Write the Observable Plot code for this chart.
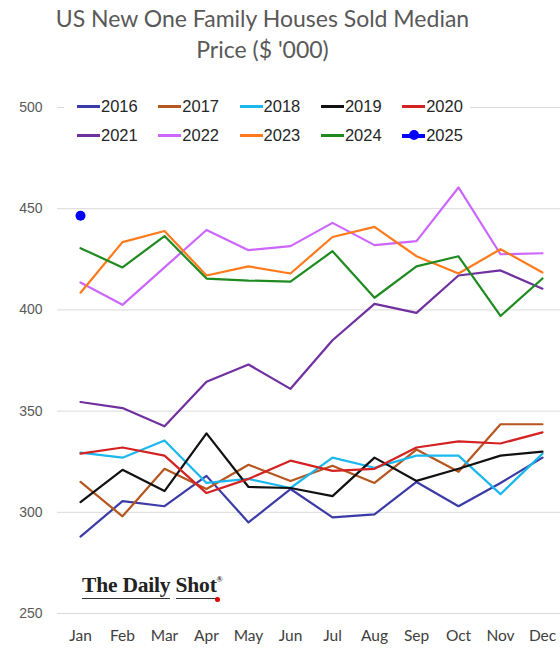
<!DOCTYPE html>
<html>
<head>
<meta charset="utf-8">
<script src="https://cdn.jsdelivr.net/npm/d3@7"></script>
<script src="https://cdn.jsdelivr.net/npm/@observablehq/plot@0.6"></script>
<style>
  html, body { margin: 0; padding: 0; background: #fff; }
  #wrap { position: relative; width: 560px; height: 651px; overflow: hidden; font-family: Lato, "Open Sans", sans-serif; }
  #title { width: 525px; height: 75px; text-align: center; color: #595959; font-size: 23px; line-height: 31px; padding-top: 3px; box-sizing: border-box; }
  #legend { position: absolute; left: 64px; top: 94px; width: 406px; height: 56px; background: #fff; }
  .item { position: absolute; display: flex; align-items: center; font-family: "Liberation Sans", Arial, sans-serif; font-size: 16.5px; color: #262626; }
  .swatch { position: relative; width: 23px; height: 3px; margin-right: 1px; }
  .swatch .dot { position: absolute; left: 7px; top: -4px; width: 10px; height: 10px; border-radius: 50%; }
  #logo { position: absolute; left: 82px; top: 573px; font-family: "Liberation Serif", "DejaVu Serif", serif; font-weight: bold; font-size: 21.5px; color: #222; letter-spacing: -0.2px; white-space: nowrap; }
  #logo .t { position: relative; border-bottom: 1.5px solid #333; padding-bottom: 1px; }
  #logo sup { font-size: 8px; vertical-align: 10px; }
  #logo .reddot { position: absolute; right: -3px; bottom: -4px; width: 5px; height: 5px; border-radius: 50%; background: #e00000; }
</style>
</head>
<body>
<div id="wrap">
  <div id="title">US New One Family Houses Sold Median<br>Price ($ '000)</div>
  <div id="chart"></div>
  <div id="legend"></div>
  <div id="logo"><span class="t">The Daily</span> <span class="t">Shot<span class="reddot"></span></span><sup>®</sup></div>
</div>
<script>
// Monthly median sale price of new one-family houses, thousands of dollars
const months = ["Jan", "Feb", "Mar", "Apr", "May", "Jun", "Jul", "Aug", "Sep", "Oct", "Nov", "Dec"];
const years = ["2016", "2017", "2018", "2019", "2020", "2021", "2022", "2023", "2024", "2025"];
const colors = ["#3b3ba8", "#b5561f", "#1ab8ee", "#111111", "#d42121", "#7030a0", "#cc66ff", "#ff7a1a", "#1f8a1f", "#0000ff"];

const p2016 = [288, 305.5, 303, 318, 295, 311.5, 297.5, 299, 315, 303, 314.5, 327];
const p2017 = [315, 298, 321.5, 311.5, 323.5, 315.5, 323, 314.5, 331, 320, 343.5, 343.5];
const p2018 = [329.5, 327, 335.5, 314.5, 316.5, 312, 327, 322, 328, 328, 309, 329];
const p2019 = [305, 321, 310.5, 339, 312.5, 312, 308, 327, 315.5, 321.5, 328, 330];
const p2020 = [329, 332, 328, 309.5, 316.5, 325.5, 320.5, 321.5, 332, 335, 334, 339.5];
const p2021 = [354.5, 351.5, 342.5, 364.5, 373, 361, 385, 403, 398.5, 417, 419.5, 410.5];
const p2022 = [413.5, 402.5, 421, 439.5, 429.5, 431.5, 443, 432, 434, 460.5, 427.5, 428];
const p2023 = [408.5, 433.5, 439, 417, 421.5, 418, 436, 441, 426.5, 418, 430, 418.5];
const p2024 = [430.5, 421, 436.5, 415.5, 414.5, 414, 429, 406, 421.5, 426.5, 397, 415.5];
const p2025 = [446.5];

const yTicks = [250, 300, 350, 400, 450, 500];

const series = [p2016, p2017, p2018, p2019, p2020, p2021, p2022, p2023, p2024, p2025];
const rows = series.flatMap((vals, i) => vals.map((v, j) => ({year: years[i], month: months[j], price: v})));
const lineRows = rows.filter(d => d.year !== "2025");
const dotRows = rows.filter(d => d.year === "2025");

const chart = Plot.plot({
  width: 560,
  height: 576,
  marginLeft: 57,
  marginRight: -4,
  marginTop: 32,
  marginBottom: 38,
  style: {background: "transparent", overflow: "visible"},
  x: {type: "point", domain: months, padding: 0.5, label: null},
  y: {domain: [250, 500], label: null},
  color: {domain: years, range: colors},
  marks: [
    Plot.ruleY(yTicks, {stroke: "#d9d9d9", strokeWidth: 1}),
    Plot.axisY({ticks: yTicks, tickSize: 0, tickPadding: 15, fontSize: 14, fill: "#595959", fontFamily: "Liberation Sans, Arial, sans-serif", label: null}),
    Plot.axisX({tickSize: 0, tickPadding: 16, fontSize: 15.5, fill: "#404040", fontFamily: "Lato, sans-serif", label: null}),
    Plot.line(lineRows, {x: "month", y: "price", z: "year", stroke: "year", strokeWidth: 2.2, curve: "linear"}),
    Plot.dot(dotRows, {x: "month", y: "price", fill: "year", r: 5})
  ]
});
document.getElementById("chart").appendChild(chart);

// Legend: two rows of five entries
const legend = document.getElementById("legend");
years.forEach((yr, i) => {
  const col = i % 5, row = Math.floor(i / 5);
  const item = document.createElement("div");
  item.className = "item";
  item.style.left = (13 + col * 81.3) + "px";
  item.style.top = (row * 29 + 3) + "px";
  const sw = document.createElement("span");
  sw.className = "swatch";
  sw.style.background = colors[i];
  if (yr === "2025") {
    sw.style.height = "4px";
    const d = document.createElement("span");
    d.className = "dot";
    d.style.background = colors[i];
    sw.appendChild(d);
  }
  item.appendChild(sw);
  item.appendChild(document.createTextNode(yr));
  legend.appendChild(item);
});
</script>
</body>
</html>
